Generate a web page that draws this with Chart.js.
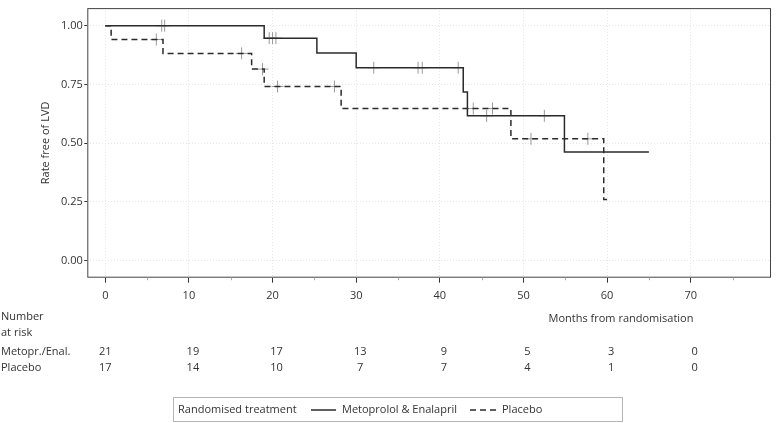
<!DOCTYPE html>
<html>
<head>
<meta charset="utf-8">
<script src="https://cdn.jsdelivr.net/npm/chart.js@4"></script>
<style>
  html, body { margin: 0; padding: 0; background: #fff; }
  canvas { display: block; }
</style>
</head>
<body>
<canvas id="km" width="778" height="423"></canvas>
<script>
// Kaplan-Meier steps (months, rate free of LVD)
const metoTimes = [0, 19.0, 25.3, 30.0, 42.8, 43.3, 54.9, 65.0];
const metoSurv = [1, 0.947, 0.884, 0.821, 0.718, 0.616, 0.462, 0.462];
const placTimes = [0, 0.7, 6.9, 17.5, 19.0, 28.2, 48.5, 59.6, 60.0];
const placSurv = [1, 0.941, 0.882, 0.815, 0.741, 0.647, 0.518, 0.259, 0.259];

// censored observations
const metoCensTimes = [6.75, 7.1, 19.6, 20.0, 20.4, 32.1, 37.4, 37.9, 42.2, 45.6, 52.5];
const metoCensSurv = [1, 1, 0.947, 0.947, 0.947, 0.821, 0.821, 0.821, 0.821, 0.616, 0.616];
const placCensTimes = [6.1, 16.3, 18.8, 20.6, 27.4, 44.0, 46.3, 50.9, 57.7];
const placCensSurv = [0.941, 0.882, 0.815, 0.741, 0.741, 0.647, 0.647, 0.518, 0.518];

// number at risk table
const riskTimes = [0, 10, 20, 30, 40, 50, 60, 70];
const riskMeto = [21, 19, 17, 13, 9, 5, 3, 0];
const riskPlac = [17, 14, 10, 7, 7, 4, 1, 0];
const riskLabels = ['Metopr./Enal.', 'Placebo'];

const xTicks = [0, 10, 20, 30, 40, 50, 60, 70];
const yTicks = [0, 0.25, 0.5, 0.75, 1];
const seriesNames = ['Metoprolol & Enalapril', 'Placebo'];

const INK = '#2b2b2b';
const TXT = '#333';
Chart.defaults.font.family = "'Open Sans', sans-serif";
Chart.defaults.font.size = 11;
Chart.defaults.color = TXT;

const toPts = (xs, ys) => xs.map((x, i) => ({ x: x, y: ys[i] }));

// frame, risk table and legend box
const extras = {
  id: 'extras',
  beforeDatasetsDraw(chart) {
    const { ctx, chartArea: a } = chart;
    ctx.save();
    ctx.strokeStyle = '#444';
    ctx.lineWidth = 1;
    ctx.strokeRect(a.left + 0.5, a.top + 0.5, a.right - a.left - 1, a.bottom - a.top - 1);
    // minor x ticks
    const xs = chart.scales.x;
    ctx.strokeStyle = '#aaa';
    for (let v = 5; v < 80; v += 10) {
      const px = Math.round(xs.getPixelForValue(v)) + 0.5;
      ctx.beginPath();
      ctx.moveTo(px, a.bottom);
      ctx.lineTo(px, a.bottom + 2.5);
      ctx.stroke();
    }
    ctx.restore();
  },
  afterDraw(chart) {
    const { ctx } = chart;
    const xs = chart.scales.x;
    ctx.save();
    ctx.fillStyle = TXT;
    ctx.font = "11px 'Open Sans', sans-serif";
    ctx.textBaseline = 'middle';

    ctx.textAlign = 'left';
    ctx.fillText('Number', 1, 316.5);
    ctx.fillText('at risk', 1, 333);
    ctx.textAlign = 'center';
    ctx.fillText('Months from randomisation', 621, 319);

    const rows = [riskMeto, riskPlac];
    const rowY = [352, 367.5];
    rows.forEach((vals, r) => {
      ctx.textAlign = 'left';
      ctx.fillText(riskLabels[r], 1, rowY[r]);
      ctx.textAlign = 'center';
      vals.forEach((n, i) => {
        const px = xs.getPixelForValue(riskTimes[i]);
        ctx.fillText(String(n), px + (i === 0 ? 0 : 4), rowY[r]);
      });
    });

    // legend
    ctx.strokeStyle = '#b5b5b5';
    ctx.lineWidth = 1;
    ctx.strokeRect(173.5, 397.5, 449, 24);
    ctx.textAlign = 'left';
    ctx.fillText('Randomised treatment', 178, 410);
    ctx.strokeStyle = INK;
    ctx.lineWidth = 1.5;
    ctx.beginPath();
    ctx.moveTo(311, 410);
    ctx.lineTo(336, 410);
    ctx.stroke();
    ctx.fillText(seriesNames[0], 342, 410);
    ctx.setLineDash([6, 4]);
    ctx.beginPath();
    ctx.moveTo(470, 410);
    ctx.lineTo(498, 410);
    ctx.stroke();
    ctx.setLineDash([]);
    ctx.fillText(seriesNames[1], 502, 410);
    ctx.restore();
  }
};

new Chart(document.getElementById('km'), {
  type: 'line',
  data: {
    datasets: [
      {
        label: seriesNames[0],
        data: toPts(metoTimes, metoSurv),
        stepped: true,
        borderColor: INK,
        borderWidth: 1.5,
        pointRadius: 0,
        fill: false,
        order: 1
      },
      {
        label: seriesNames[1],
        data: toPts(placTimes, placSurv),
        stepped: true,
        borderColor: INK,
        borderWidth: 1.5,
        borderDash: [6, 4],
        pointRadius: 0,
        fill: false,
        order: 1
      },
      {
        label: 'censored meto',
        data: toPts(metoCensTimes, metoCensSurv),
        showLine: false,
        pointStyle: 'cross',
        pointRadius: 6,
        borderColor: '#9a9a9a',
        pointBorderWidth: 1,
        order: 2
      },
      {
        label: 'censored placebo',
        data: toPts(placCensTimes, placCensSurv),
        showLine: false,
        pointStyle: 'cross',
        pointRadius: 6,
        borderColor: '#9a9a9a',
        pointBorderWidth: 1,
        order: 2
      }
    ]
  },
  options: {
    responsive: false,
    animation: false,
    events: [],
    layout: { padding: { top: 2, right: 7, bottom: 115.3, left: 0 } },
    plugins: {
      legend: { display: false },
      tooltip: { enabled: false }
    },
    scales: {
      x: {
        type: 'linear',
        min: -2.15,
        max: 79.6,
        afterFit(s) { s.height = 30; },
        afterBuildTicks(s) { s.ticks = xTicks.map(v => ({ value: v })); },
        ticks: { padding: 6.7, maxRotation: 0, color: TXT },
        grid: { color: '#e6e6e6', tickColor: '#333', tickLength: 5, lineWidth: 1 },
        border: { display: false, dash: [1, 2] }
      },
      y: {
        min: -0.0737,
        max: 1.075,
        afterFit(s) { s.width = 87.3; },
        afterBuildTicks(s) { s.ticks = yTicks.map(v => ({ value: v })); },
        ticks: { padding: 1.5, color: TXT, callback: v => Number(v).toFixed(2) },
        grid: { color: '#e6e6e6', tickColor: '#333', tickLength: 3, lineWidth: 1 },
        border: { display: false, dash: [1, 2] },
        title: {
          display: true,
          text: 'Rate free of LVD',
          color: TXT,
          font: { size: 11 },
          padding: { top: 39.4, bottom: 0 }
        }
      }
    }
  },
  plugins: [extras]
});
</script>
</body>
</html>
